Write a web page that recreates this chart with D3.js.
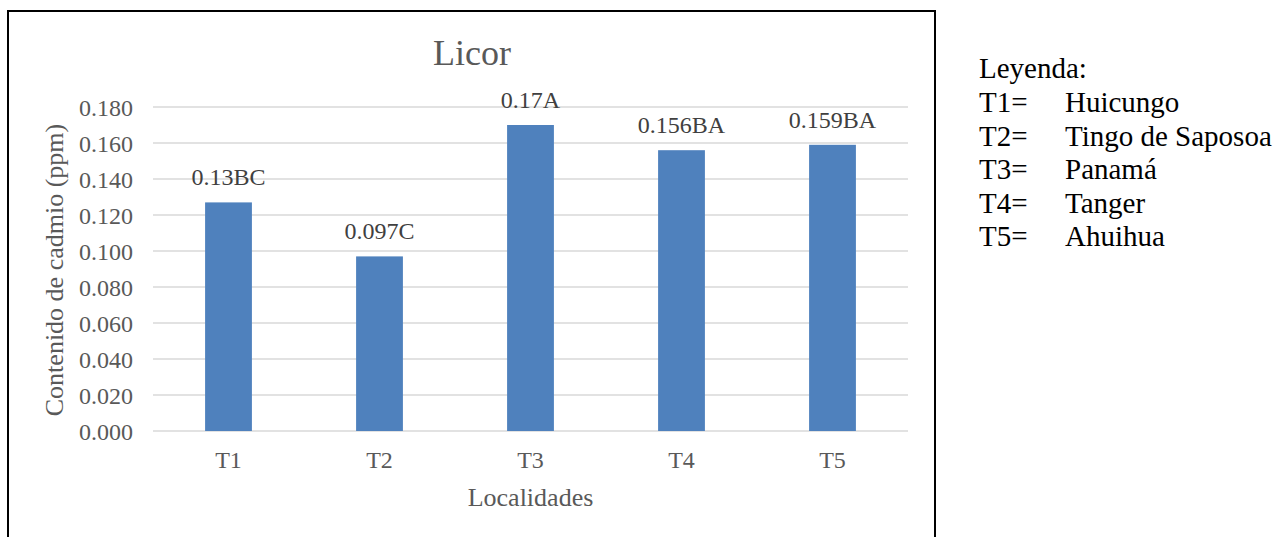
<!DOCTYPE html>
<html>
<head>
<meta charset="utf-8">
<script src="https://cdn.jsdelivr.net/npm/d3@7"></script>
<style>
  html, body { margin: 0; padding: 0; background: #fff; }
  svg { display: block; }
  text { font-family: "Liberation Serif", "Times New Roman", serif; }
</style>
</head>
<body>
<svg id="chart" width="1280" height="537"></svg>
<script>
// Cadmium content in liquor by locality
const categories = ["T1", "T2", "T3", "T4", "T5"];
const values = [0.127, 0.097, 0.170, 0.156, 0.159];
const valueTexts = ["0.13", "0.097", "0.17", "0.156", "0.159"];
const groupLetters = ["BC", "C", "A", "BA", "BA"];
const yTicks = [0, 0.02, 0.04, 0.06, 0.08, 0.10, 0.12, 0.14, 0.16, 0.18];
const legendCodes = ["T1=", "T2=", "T3=", "T4=", "T5="];
const legendNames = ["Huicungo", "Tingo de Saposoa", "Panamá", "Tanger", "Ahuihua"];

const svg = d3.select("#chart");
const textGray = "#595959";

// outer frame of the chart (open at the bottom edge of the page)
svg.append("path")
  .attr("d", "M8,540 L8,11 L935,11 L935,540")
  .attr("fill", "none")
  .attr("stroke", "#000")
  .attr("stroke-width", 2);

const plot = { left: 153, right: 908, top: 107, bottom: 431 };

const x = d3.scaleBand()
  .domain(categories)
  .range([plot.left, plot.right])
  .paddingInner(0.69)
  .paddingOuter(0.345);

const y = d3.scaleLinear()
  .domain([0, 0.18])
  .range([plot.bottom, plot.top]);

// horizontal gridlines
svg.append("g")
  .selectAll("line")
  .data(yTicks)
  .join("line")
  .attr("x1", plot.left)
  .attr("x2", plot.right)
  .attr("y1", d => y(d))
  .attr("y2", d => y(d))
  .attr("stroke", "#d9d9d9")
  .attr("stroke-width", 1.3);

// y axis tick labels
const yAxis = svg.append("g")
  .attr("transform", `translate(${plot.left - 20},0)`)
  .call(d3.axisLeft(y).tickValues(yTicks).tickFormat(d3.format(".3f")).tickSize(0).tickPadding(0));
yAxis.select(".domain").remove();
yAxis.selectAll("text")
  .attr("fill", textGray)
  .attr("font-size", 24)
  .attr("font-family", "Liberation Serif")
  .attr("dy", "0.34em");

// bars
svg.append("g")
  .selectAll("rect")
  .data(values)
  .join("rect")
  .attr("x", (d, i) => x(categories[i]))
  .attr("width", x.bandwidth())
  .attr("y", d => y(d))
  .attr("height", d => y(0) - y(d))
  .attr("fill", "#4f81bd");

// value labels with significance letters
svg.append("g")
  .selectAll("text")
  .data(values)
  .join("text")
  .attr("x", (d, i) => x(categories[i]) + x.bandwidth() / 2)
  .attr("y", d => y(d) - 17)
  .attr("text-anchor", "middle")
  .attr("font-size", 24)
  .attr("fill", "#404040")
  .text((d, i) => valueTexts[i] + groupLetters[i]);

// x axis category labels
const xAxis = svg.append("g")
  .attr("transform", `translate(0,${plot.bottom})`)
  .call(d3.axisBottom(x).tickSize(0).tickPadding(0));
xAxis.select(".domain").remove();
xAxis.selectAll("text")
  .attr("fill", textGray)
  .attr("font-size", 24)
  .attr("font-family", "Liberation Serif")
  .attr("dy", null)
  .attr("y", 37);

// title
svg.append("text")
  .attr("x", 472)
  .attr("y", 65)
  .attr("text-anchor", "middle")
  .attr("font-size", 36)
  .attr("fill", textGray)
  .text("Licor");

// axis titles
svg.append("text")
  .attr("x", (plot.left + plot.right) / 2)
  .attr("y", 506)
  .attr("text-anchor", "middle")
  .attr("font-size", 26)
  .attr("fill", textGray)
  .text("Localidades");

svg.append("text")
  .attr("transform", "translate(63,270) rotate(-90)")
  .attr("text-anchor", "middle")
  .attr("font-size", 26)
  .attr("fill", textGray)
  .text("Contenido de cadmio (ppm)");

// legend of locality codes
const legend = svg.append("g");
legend.append("text")
  .attr("x", 979)
  .attr("y", 78)
  .attr("font-size", 29)
  .attr("fill", "#000")
  .text("Leyenda:");

legend.selectAll("text.code")
  .data(legendCodes)
  .join("text")
  .attr("class", "code")
  .attr("x", 979)
  .attr("y", (d, i) => 112 + i * 33.5)
  .attr("font-size", 29)
  .attr("fill", "#000")
  .text(d => d);

legend.selectAll("text.name")
  .data(legendNames)
  .join("text")
  .attr("class", "name")
  .attr("x", 1065)
  .attr("y", (d, i) => 112 + i * 33.5)
  .attr("font-size", 29)
  .attr("fill", "#000")
  .text(d => d);
</script>
</body>
</html>
